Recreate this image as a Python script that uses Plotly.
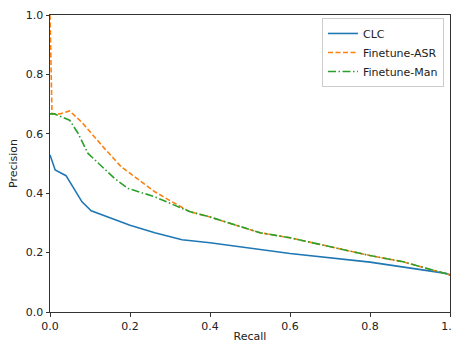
import plotly.graph_objects as go

clc_recall = [0.0, 0.013, 0.04, 0.08, 0.103, 0.157, 0.2, 0.262, 0.33, 0.4, 0.525, 0.6, 0.8, 0.99, 1.0]
clc_precision = [0.529, 0.478, 0.459, 0.371, 0.341, 0.313, 0.292, 0.267, 0.243, 0.233, 0.211, 0.197, 0.168, 0.130, 0.125]

asr_recall = [0.0, 0.005, 0.024, 0.049, 0.078, 0.103, 0.136, 0.178, 0.224, 0.262, 0.30, 0.349, 0.4, 0.525, 0.6, 0.8, 0.883, 0.942, 1.0]
asr_precision = [1.0, 0.667, 0.667, 0.677, 0.641, 0.602, 0.551, 0.489, 0.444, 0.405, 0.375, 0.338, 0.32, 0.267, 0.25, 0.19, 0.169, 0.147, 0.125]

man_recall = [0.0, 0.011, 0.049, 0.07, 0.095, 0.132, 0.161, 0.195, 0.224, 0.262, 0.30, 0.349, 0.4, 0.525, 0.6, 0.8, 0.883, 0.942, 1.0]
man_precision = [0.667, 0.667, 0.646, 0.602, 0.534, 0.487, 0.45, 0.416, 0.405, 0.388, 0.366, 0.338, 0.32, 0.267, 0.25, 0.19, 0.169, 0.147, 0.125]

x_ticks = [0.0, 0.2, 0.4, 0.6, 0.8, 1.0]
y_ticks = [0.0, 0.2, 0.4, 0.6, 0.8, 1.0]

fig = go.Figure()
fig.add_trace(go.Scatter(x=clc_recall, y=clc_precision, mode="lines", name="CLC",
                         line=dict(color="#1f77b4", width=1.6)))
fig.add_trace(go.Scatter(x=asr_recall, y=asr_precision, mode="lines", name="Finetune-ASR",
                         line=dict(color="#ff7f0e", width=1.6, dash="5px,2.5px")))
fig.add_trace(go.Scatter(x=man_recall, y=man_precision, mode="lines", name="Finetune-Man",
                         line=dict(color="#2ca02c", width=1.6, dash="8px,2.5px,1.5px,2.5px")))

font = dict(family="DejaVu Sans", size=11, color="#222")
fig.update_layout(
    width=452, height=343,
    margin=dict(l=50, r=2, t=15, b=31),
    paper_bgcolor="white", plot_bgcolor="white",
    font=font,
    showlegend=True,
    legend=dict(x=0.985, y=0.99, xanchor="right", yanchor="top",
                bordercolor="#cccccc", borderwidth=1, bgcolor="rgba(255,255,255,0.8)",
                font=dict(family="DejaVu Sans", size=11, color="#222"),
                tracegroupgap=0, itemwidth=30),
)
fig.update_xaxes(range=[0, 1], tickvals=x_ticks, ticktext=[f"{v:.1f}" for v in x_ticks],
                 ticks="outside", ticklen=3.5, tickcolor="#333", tickwidth=1,
                 ticklabeloverflow="allow",
                 showline=True, linecolor="#333", linewidth=1, mirror=True,
                 showgrid=False, zeroline=False, automargin=False,
                 title=dict(text="Recall", standoff=13, font=font))
fig.update_yaxes(range=[0, 1], tickvals=y_ticks, ticktext=[f"{v:.1f}" for v in y_ticks],
                 ticks="outside", ticklen=3.5, tickcolor="#333", tickwidth=1,
                 ticklabeloverflow="allow",
                 showline=True, linecolor="#333", linewidth=1, mirror=True,
                 showgrid=False, zeroline=False, automargin=False,
                 title=dict(text="Precision", standoff=5, font=font))

fig.write_html("out.html", config={"displayModeBar": False},
               post_script="document.body.style.margin='0';document.body.style.overflow='hidden';")
